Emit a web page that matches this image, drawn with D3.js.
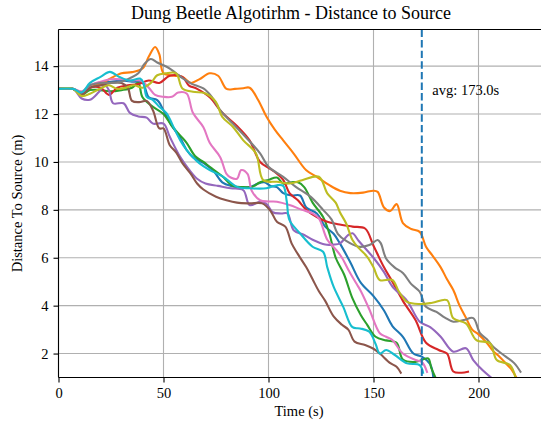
<!DOCTYPE html>
<meta charset="utf-8">
<style>
  body { margin: 0; background: #fff; }
  text { font-family: "Liberation Serif", "Times New Roman", serif; fill: #000; }
</style>
<svg width="541" height="428"></svg>
<script src="https://d3js.org/d3.v7.min.js"></script>
<script>

// [time (s), distance (m)], one array per run
var run0 = [[0,13.05],[7,13.05],[11,12.85],[15,13.2],[20,13.3],[25,13.35],[30,13.4],[35,13.35],[40,13.3],[43,12.7],[47,12.58],[50,12.16],[54,11.5],[58,11.0],[61,10.5],[64,10.2],[67,10.05],[70,9.9],[74,9.6],[78,9.15],[82,9.0],[86,8.95],[91,8.95],[95,9.1],[98,9.15],[101,9.0],[104,8.95],[107,8.7],[111,8.6],[115,8.6],[118,8.1],[123,7.85],[127,7.3],[131,7.0],[134,6.6],[139,5.8],[144,4.95],[150,4.4],[155,3.8],[159,3.15],[164,2.7],[169,2.0],[173,1.87],[177,1.55],[178.5,1.0]];
var run1 = [[0,13.05],[7,13.05],[11,12.85],[15,13.15],[20,13.25],[25,13.5],[30,13.7],[35,13.75],[40,13.9],[43,14.4],[46,14.8],[48,14.5],[50,13.7],[55,13.6],[59,13.55],[63,13.3],[67,13.45],[72,13.7],[76,13.6],[80,13.05],[84,13.05],[88,13.08],[91,13.1],[95,12.6],[99,11.9],[103,11.35],[107,10.9],[112,10.35],[118,9.65],[123,9.38],[129,9.03],[134,8.8],[139,8.7],[145,8.72],[150,8.8],[152,8.75],[155,8.1],[158,7.95],[161,8.24],[164,7.45],[168,7.2],[172,7.08],[175,6.46],[178,6.1],[182,5.6],[185,5.1],[188,4.65],[191,4.0],[194,3.5],[197,3.0],[200,2.8],[204,2.44],[207,2.1],[210,1.87],[214,1.5],[216,1.3],[218,1.0]];
var run2 = [[0,13.05],[7,13.05],[11,12.8],[15,13.0],[20,13.0],[25,12.95],[30,13.0],[35,13.1],[38,13.3],[40,12.7],[45,12.3],[50,12.0],[54,11.5],[58,11.1],[61,10.8],[65,10.25],[69,10.0],[72,9.8],[78,9.4],[83,9.0],[88,8.95],[92,8.95],[96,9.15],[100,9.25],[104,9.35],[107,9.1],[111,9.15],[114,9.15],[117,8.95],[121,8.3],[126,7.7],[129,7.0],[132,6.0],[136,5.3],[140,4.3],[144,3.6],[147,3.2],[151,2.7],[156,2.55],[161,2.45],[164,1.75],[170,1.65],[176,1.8],[177.5,1.4],[179.5,1.0]];
var run3 = [[0,13.05],[7,13.05],[11,12.85],[15,13.1],[20,13.1],[24,12.8],[28,13.1],[33,13.2],[38,13.25],[43,13.4],[48,13.3],[53,13.6],[59,13.55],[62,13.2],[66,13.05],[72,12.7],[78,12.05],[85,11.5],[91,10.9],[96,10.0],[102,9.65],[107,9.25],[110,8.7],[114,8.4],[118,8.0],[123,7.7],[128,7.5],[133,7.4],[140,7.3],[146,7.22],[150,6.5],[155,5.6],[159,5.0],[164,4.2],[170,3.4],[175,2.45],[181,2.15],[185,2.0],[188,1.25],[192,1.2],[195,1.24]];
var run4 = [[0,13.05],[7,13.05],[11,12.65],[15,12.6],[19,12.9],[22,13.2],[24,13.0],[26,12.45],[31,12.45],[34,12.05],[38,11.9],[42,11.85],[45,11.6],[50,11.6],[53,11.05],[58,10.2],[62,9.7],[66,9.3],[70,9.1],[76,9.0],[82,8.9],[88,8.82],[91,8.2],[96,8.34],[99,8.25],[102,7.9],[106,7.85],[109,7.85],[112,7.15],[117,6.95],[121,6.75],[127,6.55],[131,6.55],[134,6.6],[138,6.95],[140,7.02],[143,6.7],[147,6.3],[150,6.0],[155,5.4],[159,4.8],[166,4.2],[172,3.33],[177,3.1],[182,2.7],[188,2.08],[194,2.22],[197.5,1.73],[202,1.3],[206,1.0]];
var run5 = [[0,13.05],[7,13.05],[11,12.8],[15,13.1],[20,13.2],[25,13.3],[30,13.3],[33,13.1],[35,12.55],[39,12.5],[42,12.55],[45,12.15],[48,11.4],[50,11.4],[53,10.7],[56,10.4],[59,9.95],[63,9.5],[66,9.1],[69,8.85],[75,8.55],[80,8.4],[85,8.3],[91,8.27],[97,8.27],[101,7.95],[104,7.5],[108,7.3],[111,6.6],[114,6.15],[118,5.6],[121,5.1],[124,4.6],[127,4.2],[131,3.55],[135,3.2],[138,3.0],[141,2.5],[146,2.36],[150,2.2],[153,2.0],[158,1.6],[161,1.45],[163,1.2]];
var run6 = [[0,13.05],[7,13.05],[11,12.95],[15,13.2],[20,13.35],[25,13.45],[30,13.45],[35,13.4],[39,13.4],[43,13.1],[46,12.8],[50,12.72],[54,12.72],[57,12.9],[61,12.86],[64,12.05],[69,11.45],[72,10.8],[77,10.2],[80,9.5],[82,9.35],[85,9.3],[87,9.66],[90,9.5],[92,8.8],[96,8.4],[100,8.35],[104,8.34],[110,8.2],[116,8.0],[121,7.85],[124,7.64],[128,6.75],[132,6.35],[135,6.0],[138,5.5],[142,4.9],[144,4.6],[148,3.85],[153,2.85],[156,2.7],[159,2.56],[164,2.0],[170,1.73],[173,1.65],[175.5,1.23]];
var run7 = [[0,13.05],[7,13.05],[11,12.9],[15,13.2],[20,13.3],[25,13.3],[30,13.35],[34,13.5],[38,13.7],[41,14.1],[44,14.3],[47,14.15],[50,14.04],[53,13.9],[56,13.7],[59,13.5],[63,13.28],[69,13.07],[73,12.72],[77,12.16],[83,11.6],[89,11.05],[96,10.36],[100,9.8],[107,9.38],[113,8.96],[120,8.55],[126,8.0],[130,7.6],[133,7.0],[137,6.7],[143,6.46],[148,6.53],[152,6.74],[153.5,6.6],[156,5.97],[160,5.6],[164,5.36],[168,4.9],[172,4.58],[175,3.95],[180,3.74],[184,3.5],[188,3.33],[193,3.4],[197.5,3.48],[200.7,2.85],[204,2.6],[207,2.28],[213,1.87],[217,1.6],[220,1.24]];
var run8 = [[0,13.05],[7,13.05],[11,12.75],[15,12.85],[20,13.07],[24,13.2],[28,13.05],[32,13.1],[36,13.2],[40,13.1],[44,13.3],[47,13.62],[51,13.7],[56,13.7],[59,13.07],[64,12.93],[70,12.86],[75,12.5],[78,11.88],[83,11.47],[88,10.9],[94,10.36],[97.5,9.24],[104,9.17],[110,9.1],[116,9.24],[124,9.38],[128,8.69],[132,8.3],[134,7.9],[137,7.43],[140,6.74],[143,6.4],[147,6.04],[150,5.6],[153,5.07],[159,5.07],[162,4.6],[166,4.16],[172,4.07],[178,4.12],[185,4.23],[188,3.47],[194,3.26],[199,2.56],[205.5,2.43],[208.7,1.73],[215,1.52],[217.6,1.0]];
var run9 = [[0,13.05],[7,13.05],[11,12.9],[15,13.3],[20,13.55],[24.5,13.76],[29,13.55],[34,13.4],[38.8,13.48],[40.5,13.3],[42,12.72],[45,12.58],[48,12.3],[51.5,12.03],[54.7,11.47],[58,10.9],[61,10.5],[64,10.2],[67,9.95],[72,9.66],[78.5,9.38],[85,8.96],[91,8.9],[99,8.9],[104,9.03],[107,9.0],[108.7,8.35],[110,7.57],[115,7.02],[121,6.46],[126,6.25],[128,5.6],[131,4.79],[135.6,3.95],[140,3.1],[143.6,3.05],[148,2.91],[151,2.4],[153,2.0],[156,2.15],[160,1.95],[166,1.59],[172,1.52],[173.6,1.2]];

var runs = [run0, run1, run2, run3, run4, run5, run6, run7, run8, run9];
var avgTime = 173.0;
var xTicks = [0, 50, 100, 150, 200];
var yTicks = [2, 4, 6, 8, 10, 12, 14];

var svg = d3.select("svg");

var pLeft = 58.5, pRight = 545, pTop = 29.5, pBottom = 377.5;

var x = d3.scaleLinear().domain([0, 200]).range([pLeft, pLeft + 420]);
var y = d3.scaleLinear().domain([1, 15.53]).range([pBottom, pTop]);

var color = d3.scaleOrdinal(d3.schemeCategory10);

svg.append("clipPath").attr("id", "plot")
  .append("rect")
    .attr("x", pLeft).attr("y", pTop)
    .attr("width", pRight - pLeft).attr("height", pBottom - pTop);

// grid
svg.append("g").selectAll("line")
  .data(xTicks)
  .join("line")
    .attr("x1", d => x(d)).attr("x2", d => x(d))
    .attr("y1", pTop).attr("y2", pBottom)
    .attr("stroke", "#b0b0b0").attr("stroke-width", 1.1);

svg.append("g").selectAll("line")
  .data(yTicks)
  .join("line")
    .attr("x1", pLeft).attr("x2", pRight)
    .attr("y1", d => y(d)).attr("y2", d => y(d))
    .attr("stroke", "#b0b0b0").attr("stroke-width", 1.1);

var line = d3.line()
  .x(d => x(d[0]))
  .y(d => y(d[1]))
  .curve(d3.curveCatmullRom.alpha(0.5));

svg.append("g")
    .attr("clip-path", "url(#plot)")
  .selectAll("path")
  .data(runs)
  .join("path")
    .attr("d", line)
    .attr("fill", "none")
    .attr("stroke", (d, i) => color(i))
    .attr("stroke-width", 2.1)
    .attr("stroke-linejoin", "round")
    .attr("stroke-linecap", "square");

// average line
svg.append("line")
    .attr("x1", x(avgTime)).attr("x2", x(avgTime))
    .attr("y1", pTop).attr("y2", pBottom)
    .attr("stroke", "#1f77b4")
    .attr("stroke-width", 2)
    .attr("stroke-dasharray", "7.4,3.2");

svg.append("text")
    .attr("x", x(avgTime + 5))
    .attr("y", y(13))
    .attr("dy", "0.35em")
    .attr("font-size", "14.5px")
    .text("avg: " + avgTime.toFixed(1) + "s");

// axes
var xAxis = svg.append("g")
    .attr("transform", "translate(0," + pBottom + ")")
    .call(d3.axisBottom(x).tickValues(xTicks).tickSize(5).tickPadding(5));

var yAxis = svg.append("g")
    .attr("transform", "translate(" + pLeft + ",0)")
    .call(d3.axisLeft(y).tickValues(yTicks).tickSize(5).tickPadding(5));

[xAxis, yAxis].forEach(function(a) {
  a.select(".domain").remove();
  a.selectAll("line").attr("stroke", "#000").attr("stroke-width", 1.1);
  a.selectAll("text")
    .attr("font-size", "14.5px")
    .attr("fill", "#000");
});

// spines
svg.append("line").attr("x1", pLeft).attr("x2", pLeft).attr("y1", pTop).attr("y2", pBottom)
  .attr("stroke", "#000").attr("stroke-width", 1.1);
svg.append("line").attr("x1", pLeft).attr("x2", pRight).attr("y1", pBottom).attr("y2", pBottom)
  .attr("stroke", "#000").attr("stroke-width", 1.1);
svg.append("line").attr("x1", pLeft).attr("x2", pRight).attr("y1", pTop).attr("y2", pTop)
  .attr("stroke", "#000").attr("stroke-width", 1.1);

svg.append("text")
    .attr("x", 291).attr("y", 19)
    .attr("text-anchor", "middle")
    .attr("font-size", "18px")
    .text("Dung Beetle Algotirhm - Distance to Source");

svg.append("text")
    .attr("x", 299).attr("y", 416)
    .attr("text-anchor", "middle")
    .attr("font-size", "14.5px")
    .text("Time (s)");

svg.append("text")
    .attr("transform", "translate(22," + ((pTop + pBottom) / 2) + ") rotate(-90)")
    .attr("text-anchor", "middle")
    .attr("font-size", "14.5px")
    .text("Distance To Source (m)");

</script>
